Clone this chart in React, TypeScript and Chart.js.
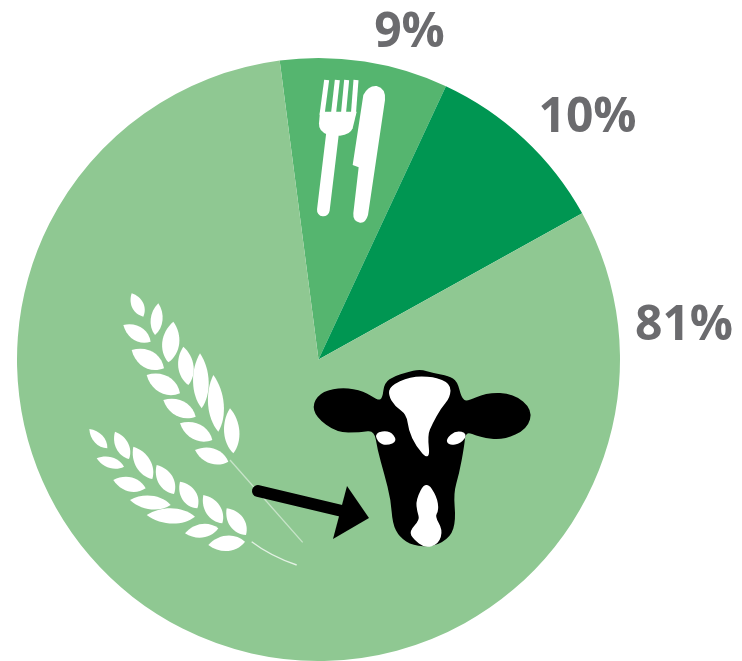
import React, { useEffect, useRef } from "react";
import { Chart, registerables } from "chart.js";

Chart.register(...registerables);

const sliceLabels = ["9%", "10%", "81%"];
const sliceValues = [9, 10, 81];
const sliceColors = ["#55b56f", "#009652", "#8fc892"];
const labelAnchors: [number, number][] = [
  [409.5, 33],
  [587.5, 118],
  [684, 326],
];

type Pt = [number, number];

const cowOutline: Pt[] = [
  [250, 115], [255, 70], [285, 50], [320, 40], [360, 30], [400, 42], [445, 50], [470, 65], [482, 115],
  [500, 128], [560, 100], [640, 103], [695, 150], [680, 205], [610, 238], [540, 230], [495, 210],
  [490, 260], [475, 340], [458, 400], [465, 480], [450, 530], [400, 557], [340, 555], [300, 530],
  [280, 490], [275, 420], [255, 340], [235, 270], [225, 208],
  [180, 215], [110, 215], [50, 170], [40, 130], [70, 95], [130, 85], [190, 95], [235, 125],
];
const cowBlaze: Pt[] = [
  [272, 80], [330, 52], [400, 52], [450, 72], [448, 112], [420, 145], [395, 190], [380, 225],
  [388, 300], [350, 258], [328, 210], [322, 162], [285, 135], [268, 105],
];
const cowEyeL: Pt[] = [[226, 220], [268, 214], [290, 242], [262, 254], [238, 248]];
const cowEyeR: Pt[] = [[440, 238], [468, 214], [500, 222], [482, 248], [448, 254]];
const cowMuzzle: Pt[] = [
  [378, 365], [408, 410], [414, 450], [402, 470], [426, 510], [414, 550], [375, 562], [342, 535],
  [330, 515], [362, 480], [354, 455], [350, 420],
];

const wheatGrains: [number, number, number, number, number][] = [
  [155, 25, 190, 95, 35], [235, 55, 225, 150, 35], [130, 120, 212, 170, 42], [280, 110, 265, 232, 50],
  [155, 195, 252, 250, 52], [310, 185, 325, 300, 45], [200, 270, 300, 325, 52], [360, 205, 365, 370, 46],
  [250, 345, 347, 395, 47], [400, 270, 415, 440, 46], [300, 415, 397, 465, 47], [450, 370, 460, 505, 45],
  [345, 495, 445, 530, 45],
  [28, 432, 82, 490, 30], [105, 440, 147, 522, 38], [50, 520, 132, 545, 32], [160, 485, 217, 582, 45],
  [100, 585, 197, 610, 42], [230, 540, 282, 627, 45], [150, 645, 272, 660, 40], [300, 590, 352, 670, 45],
  [200, 690, 345, 695, 45], [370, 630, 427, 715, 45], [315, 745, 415, 730, 40], [440, 670, 498, 750, 45],
  [385, 780, 495, 770, 45],
];

function poly(ctx: CanvasRenderingContext2D, pts: Pt[], color: string) {
  ctx.fillStyle = color;
  ctx.beginPath();
  const n = pts.length;
  ctx.moveTo((pts[n - 1][0] + pts[0][0]) / 2, (pts[n - 1][1] + pts[0][1]) / 2);
  for (let i = 0; i < n; i++) {
    const p = pts[i];
    const q = pts[(i + 1) % n];
    ctx.quadraticCurveTo(p[0], p[1], (p[0] + q[0]) / 2, (p[1] + q[1]) / 2);
  }
  ctx.closePath();
  ctx.fill();
  ctx.strokeStyle = color;
  ctx.lineWidth = 5;
  ctx.lineJoin = "round";
  ctx.stroke();
}

function drawCow(ctx: CanvasRenderingContext2D) {
  ctx.save();
  ctx.translate(300, 360);
  ctx.scale(1 / 3, 1 / 3);
  poly(ctx, cowOutline, "#000");
  poly(ctx, cowBlaze, "#fff");
  poly(ctx, cowEyeL, "#fff");
  poly(ctx, cowEyeR, "#fff");
  poly(ctx, cowMuzzle, "#fff");
  ctx.restore();
}

function drawWheat(ctx: CanvasRenderingContext2D) {
  ctx.save();
  ctx.translate(80, 285);
  ctx.scale(1 / 3, 1 / 3);
  ctx.strokeStyle = "rgba(255,255,255,0.5)";
  ctx.lineWidth = 4;
  ctx.beginPath();
  ctx.moveTo(450, 525);
  ctx.lineTo(668, 772);
  ctx.stroke();
  ctx.strokeStyle = "rgba(255,255,255,0.75)";
  ctx.beginPath();
  ctx.moveTo(515, 770);
  ctx.quadraticCurveTo(570, 812, 650, 840);
  ctx.stroke();
  ctx.fillStyle = "#fff";
  for (const [x1, y1, x2, y2, w] of wheatGrains) {
    const mx = (x1 + x2) / 2;
    const my = (y1 + y2) / 2;
    const dx = x2 - x1;
    const dy = y2 - y1;
    const len = Math.hypot(dx, dy);
    const nx = (-dy / len) * w * 0.68;
    const ny = (dx / len) * w * 0.68;
    ctx.beginPath();
    ctx.moveTo(x1, y1);
    ctx.bezierCurveTo(mx + nx - dx * 0.2, my + ny - dy * 0.2, mx + nx + dx * 0.25, my + ny + dy * 0.25, x2, y2);
    ctx.bezierCurveTo(mx - nx + dx * 0.25, my - ny + dy * 0.25, mx - nx - dx * 0.2, my - ny - dy * 0.2, x1, y1);
    ctx.closePath();
    ctx.fill();
  }
  ctx.restore();
}

function drawArrow(ctx: CanvasRenderingContext2D) {
  ctx.save();
  ctx.strokeStyle = "#000";
  ctx.lineWidth = 12;
  ctx.lineCap = "round";
  ctx.beginPath();
  ctx.moveTo(258, 491);
  ctx.lineTo(342, 511);
  ctx.stroke();
  ctx.fillStyle = "#000";
  ctx.beginPath();
  ctx.moveTo(347, 486);
  ctx.lineTo(369, 518);
  ctx.lineTo(333, 539);
  ctx.closePath();
  ctx.fill();
  ctx.restore();
}

function drawCutlery(ctx: CanvasRenderingContext2D) {
  ctx.save();
  ctx.translate(300, 70);
  ctx.scale(1 / 3, 1 / 3);
  ctx.fillStyle = "#fff";
  ctx.strokeStyle = "#fff";
  ctx.lineCap = "round";
  ctx.lineWidth = 38;
  ctx.beginPath();
  ctx.moveTo(100, 170);
  ctx.lineTo(70, 420);
  ctx.stroke();
  ctx.beginPath();
  ctx.moveTo(60, 125);
  ctx.lineTo(170, 125);
  ctx.lineTo(158, 175);
  ctx.quadraticCurveTo(150, 195, 120, 197);
  ctx.lineTo(85, 195);
  ctx.quadraticCurveTo(55, 185, 57, 160);
  ctx.closePath();
  ctx.fill();
  ctx.lineWidth = 15;
  ctx.lineCap = "butt";
  for (const [a, b] of [[80, 66], [112, 100], [140, 130], [168, 160]]) {
    ctx.beginPath();
    ctx.moveTo(a, 30);
    ctx.lineTo(b, 135);
    ctx.stroke();
  }
  ctx.beginPath();
  ctx.moveTo(190, 75);
  ctx.quadraticCurveTo(205, 46, 230, 48);
  ctx.quadraticCurveTo(258, 55, 255, 90);
  ctx.lineTo(204, 435);
  ctx.quadraticCurveTo(197, 460, 180, 458);
  ctx.quadraticCurveTo(158, 454, 160, 430);
  ctx.lineTo(176, 292);
  ctx.lineTo(158, 285);
  ctx.closePath();
  ctx.fill();
  ctx.restore();
}

const artworkPlugin = {
  id: "artwork",
  afterDatasetsDraw(chart: Chart) {
    const ctx = chart.ctx;
    drawWheat(ctx);
    drawArrow(ctx);
    drawCow(ctx);
    drawCutlery(ctx);
    ctx.save();
    ctx.font = "700 48px 'Open Sans'";
    ctx.fillStyle = "#6b6b6e";
    ctx.textAlign = "center";
    ctx.textBaseline = "middle";
    sliceLabels.forEach((t, i) => ctx.fillText(t, labelAnchors[i][0], labelAnchors[i][1]));
    ctx.restore();
  },
};

export default function App() {
  const ref = useRef<HTMLCanvasElement | null>(null);
  useEffect(() => {
    document.body.style.margin = "0";
    document.body.style.background = "#fff";
    const chart = new Chart(ref.current!, {
      type: "pie",
      data: {
        labels: sliceLabels,
        datasets: [{ data: sliceValues, backgroundColor: sliceColors, borderWidth: 0 }],
      },
      options: {
        responsive: false,
        animation: false,
        rotation: -7.4,
        layout: { padding: { left: 17, right: 122, top: 58, bottom: 0 } },
        plugins: { legend: { display: false }, tooltip: { enabled: false } },
      },
      plugins: [artworkPlugin],
    });
    return () => chart.destroy();
  }, []);
  return <canvas ref={ref} width={742} height={661} style={{ display: "block" }} />;
}
